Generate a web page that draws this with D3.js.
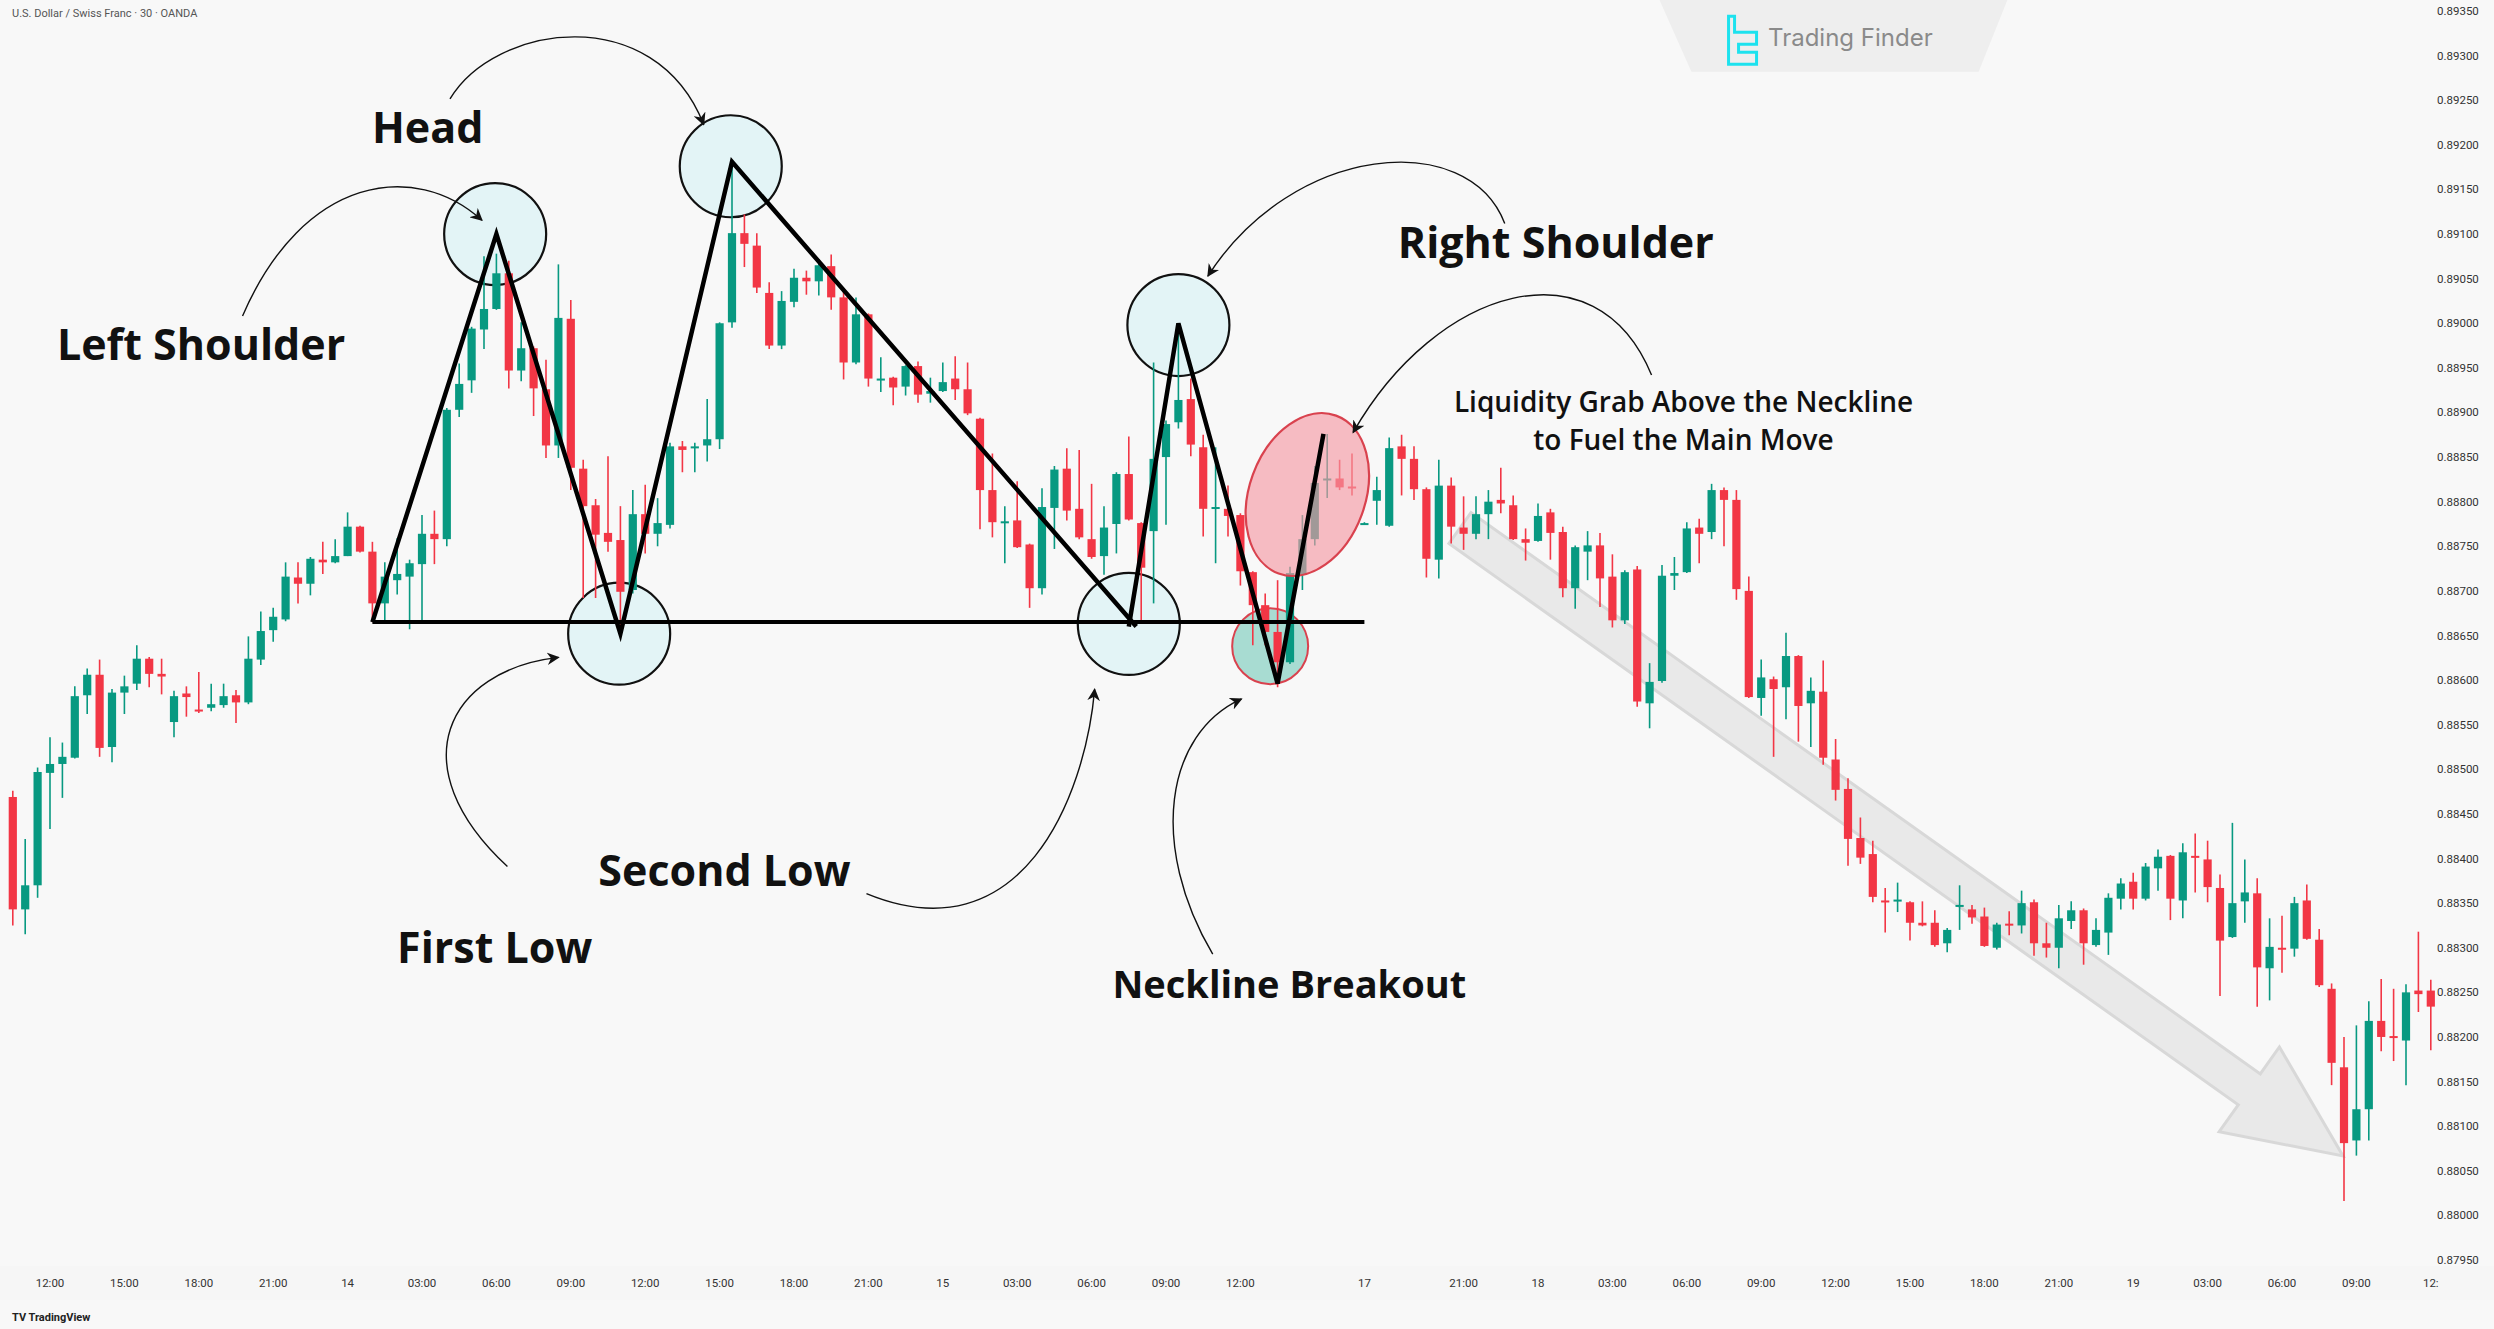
<!DOCTYPE html>
<html>
<head>
<meta charset="utf-8">
<script src="https://cdn.jsdelivr.net/npm/d3@7"></script>
<style>
  body { margin: 0; background: #f8f8f8; }
  svg { display: block; }
</style>
</head>
<body>
<svg id="chart" width="2494" height="1329"></svg>
<script>
// candles, 30 min USD/CHF, [open, high, low, close]
const candles = [
  [0.88469,0.88476,0.88325,0.88343],[0.88343,0.88422,0.88315,0.88370],[0.88370,0.88502,0.88356,0.88497],[0.88496,0.88536,0.88433,0.88506],
  [0.88506,0.88530,0.88468,0.88514],[0.88513,0.88593,0.88512,0.88582],[0.88583,0.88613,0.88562,0.88606],[0.88606,0.88623,0.88514,0.88524],
  [0.88525,0.88590,0.88508,0.88586],[0.88586,0.88605,0.88562,0.88593],[0.88596,0.88639,0.88589,0.88624],[0.88624,0.88626,0.88592,0.88607],
  [0.88607,0.88624,0.88584,0.88604],[0.88553,0.88588,0.88536,0.88582],[0.88585,0.88593,0.88559,0.88581],[0.88567,0.88609,0.88563,0.88565],
  [0.88569,0.88596,0.88565,0.88573],[0.88572,0.88596,0.88569,0.88582],[0.88583,0.88589,0.88552,0.88575],[0.88575,0.88649,0.88573,0.88624],
  [0.88623,0.88677,0.88617,0.88655],[0.88656,0.88681,0.88643,0.88671],[0.88668,0.88732,0.88666,0.88716],[0.88715,0.88732,0.88686,0.88708],
  [0.88708,0.88738,0.88695,0.88736],[0.88735,0.88755,0.88719,0.88732],[0.88732,0.88758,0.88731,0.88739],[0.88739,0.88788,0.88739,0.88772],
  [0.88772,0.88773,0.88743,0.88744],[0.88744,0.88755,0.88665,0.88686],[0.88686,0.88732,0.88665,0.88716],[0.88712,0.88759,0.88696,0.88719],
  [0.88716,0.88735,0.88657,0.88731],[0.88730,0.88785,0.88667,0.88764],[0.88764,0.88790,0.88730,0.88758],[0.88758,0.88905,0.88750,0.88903],
  [0.88903,0.88955,0.88895,0.88932],[0.88936,0.88996,0.88922,0.88994],[0.88993,0.89075,0.88971,0.89016],[0.89016,0.89078,0.89015,0.89056],
  [0.89056,0.89070,0.88927,0.88947],[0.88947,0.89001,0.88935,0.88972],[0.88972,0.88974,0.88896,0.88927],[0.88926,0.88959,0.88849,0.88863],
  [0.88863,0.89066,0.88849,0.89006],[0.89005,0.89026,0.88813,0.88838],[0.88837,0.88847,0.88692,0.88795],[0.88796,0.88803,0.88692,0.88763],
  [0.88765,0.88851,0.88744,0.88755],[0.88757,0.88795,0.88654,0.88699],[0.88701,0.88813,0.88697,0.88786],[0.88786,0.88819,0.88742,0.88764],
  [0.88764,0.88804,0.88750,0.88776],[0.88774,0.88866,0.88770,0.88862],[0.88862,0.88868,0.88833,0.88858],[0.88861,0.88866,0.88833,0.88862],
  [0.88863,0.88915,0.88845,0.88870],[0.88870,0.89001,0.88859,0.89000],[0.89001,0.89181,0.88995,0.89101],[0.89101,0.89122,0.89063,0.89089],
  [0.89087,0.89101,0.89034,0.89040],[0.89034,0.89046,0.88971,0.88975],[0.88975,0.89036,0.88971,0.89025],[0.89024,0.89061,0.89018,0.89051],
  [0.89051,0.89059,0.89032,0.89047],[0.89047,0.89072,0.89031,0.89065],[0.89064,0.89077,0.89015,0.89029],[0.89029,0.89039,0.88937,0.88956],
  [0.88956,0.89029,0.88954,0.89010],[0.89010,0.89011,0.88929,0.88938],[0.88937,0.88962,0.88923,0.88938],[0.88939,0.88940,0.88908,0.88928],
  [0.88929,0.88953,0.88919,0.88952],[0.88952,0.88957,0.88911,0.88920],[0.88921,0.88939,0.88911,0.88924],[0.88924,0.88956,0.88923,0.88934],
  [0.88938,0.88963,0.88914,0.88926],[0.88926,0.88956,0.88897,0.88899],[0.88893,0.88894,0.88769,0.88813],[0.88813,0.88854,0.88760,0.88777],
  [0.88777,0.88795,0.88731,0.88778],[0.88779,0.88823,0.88748,0.88749],[0.88752,0.88753,0.88681,0.88703],[0.88703,0.88815,0.88696,0.88794],
  [0.88793,0.88840,0.88747,0.88836],[0.88837,0.88860,0.88779,0.88790],[0.88792,0.88858,0.88758,0.88760],[0.88758,0.88820,0.88736,0.88738],
  [0.88739,0.88795,0.88718,0.88771],[0.88775,0.88833,0.88742,0.88831],[0.88831,0.88873,0.88779,0.88780],[0.88776,0.88777,0.88663,0.88726],
  [0.88767,0.88956,0.88686,0.88848],[0.88850,0.88891,0.88774,0.88887],[0.88889,0.89000,0.88882,0.88914],[0.88915,0.88938,0.88851,0.88864],
  [0.88861,0.88875,0.88761,0.88792],[0.88792,0.88861,0.88731,0.88794],[0.88792,0.88818,0.88761,0.88784],[0.88785,0.88787,0.88706,0.88722],
  [0.88721,0.88722,0.88639,0.88684],[0.88684,0.88697,0.88639,0.88654],[0.88654,0.88712,0.88592,0.88620],[0.88620,0.88727,0.88618,0.88720],
  [0.88718,0.88785,0.88701,0.88758],[0.88758,0.88840,0.88751,0.88821],[0.88824,0.88876,0.88804,0.88826],[0.88826,0.88847,0.88813,0.88816],
  [0.88817,0.88854,0.88807,0.88816],[0.88775,0.88777,0.88774,0.88776],[0.88801,0.88828,0.88774,0.88813],[0.88773,0.88872,0.88772,0.88860],
  [0.88862,0.88875,0.88807,0.88848],[0.88848,0.88862,0.88802,0.88814],[0.88814,0.88816,0.88715,0.88736],[0.88735,0.88847,0.88714,0.88818],
  [0.88818,0.88827,0.88753,0.88772],[0.88771,0.88806,0.88746,0.88764],[0.88764,0.88806,0.88758,0.88786],[0.88786,0.88813,0.88758,0.88800],
  [0.88802,0.88838,0.88787,0.88798],[0.88796,0.88807,0.88757,0.88758],[0.88758,0.88770,0.88734,0.88754],[0.88756,0.88798,0.88755,0.88784],
  [0.88788,0.88792,0.88735,0.88765],[0.88766,0.88772,0.88693,0.88703],[0.88703,0.88751,0.88680,0.88749],[0.88744,0.88767,0.88712,0.88751],
  [0.88751,0.88765,0.88682,0.88714],[0.88716,0.88741,0.88659,0.88667],[0.88667,0.88723,0.88663,0.88721],[0.88724,0.88728,0.88570,0.88576],
  [0.88574,0.88619,0.88546,0.88598],[0.88599,0.88729,0.88597,0.88717],[0.88717,0.88738,0.88701,0.88720],[0.88721,0.88777,0.88720,0.88770],
  [0.88771,0.88781,0.88731,0.88764],[0.88766,0.88820,0.88758,0.88813],[0.88813,0.88816,0.88750,0.88802],[0.88802,0.88813,0.88690,0.88702],
  [0.88700,0.88716,0.88580,0.88581],[0.88580,0.88623,0.88560,0.88603],[0.88601,0.88604,0.88514,0.88590],[0.88592,0.88653,0.88556,0.88627],
  [0.88627,0.88628,0.88531,0.88571],[0.88574,0.88603,0.88525,0.88588],[0.88587,0.88622,0.88505,0.88513],[0.88511,0.88534,0.88465,0.88477],
  [0.88478,0.88490,0.88392,0.88422],[0.88423,0.88446,0.88394,0.88401],[0.88405,0.88420,0.88351,0.88357],[0.88353,0.88367,0.88317,0.88351],
  [0.88352,0.88373,0.88340,0.88354],[0.88351,0.88352,0.88308,0.88328],[0.88328,0.88352,0.88324,0.88325],[0.88328,0.88342,0.88301,0.88303],
  [0.88305,0.88322,0.88295,0.88320],[0.88346,0.88370,0.88320,0.88348],[0.88343,0.88348,0.88327,0.88334],[0.88335,0.88345,0.88301,0.88302],
  [0.88300,0.88328,0.88298,0.88326],[0.88327,0.88341,0.88314,0.88326],[0.88325,0.88364,0.88316,0.88350],[0.88351,0.88354,0.88291,0.88305],
  [0.88305,0.88328,0.88289,0.88300],[0.88300,0.88348,0.88277,0.88333],[0.88330,0.88352,0.88321,0.88342],[0.88342,0.88344,0.88281,0.88305],
  [0.88303,0.88333,0.88301,0.88320],[0.88317,0.88361,0.88292,0.88356],[0.88355,0.88378,0.88343,0.88372],[0.88374,0.88384,0.88343,0.88355],
  [0.88355,0.88395,0.88353,0.88391],[0.88389,0.88410,0.88364,0.88402],[0.88403,0.88404,0.88331,0.88355],[0.88353,0.88417,0.88333,0.88407],
  [0.88403,0.88428,0.88362,0.88402],[0.88399,0.88420,0.88351,0.88368],[0.88367,0.88382,0.88246,0.88308],[0.88312,0.88440,0.88311,0.88350],
  [0.88352,0.88399,0.88328,0.88362],[0.88361,0.88378,0.88234,0.88278],[0.88277,0.88333,0.88241,0.88301],[0.88300,0.88336,0.88272,0.88298],
  [0.88299,0.88357,0.88290,0.88350],[0.88353,0.88371,0.88309,0.88310],[0.88309,0.88321,0.88256,0.88258],[0.88254,0.88260,0.88146,0.88171],
  [0.88166,0.88200,0.88016,0.88081],[0.88084,0.88213,0.88067,0.88119],[0.88119,0.88240,0.88084,0.88218],[0.88218,0.88265,0.88184,0.88200],
  [0.88201,0.88254,0.88173,0.88200],[0.88196,0.88259,0.88146,0.88250],[0.88252,0.88318,0.88228,0.88248],[0.88252,0.88264,0.88185,0.88234]
];

const priceTicks = d3.range(0, 29).map(k => 0.8795 + k * 0.0005);
const timeTickBars = [3, 9, 15, 21, 27, 33, 39, 45, 51, 57, 63, 69, 75, 81, 87, 93, 99, 109, 117, 123, 129, 135, 141, 147, 153, 159, 165, 171, 177, 183, 189, 195];
const timeTickLabels = ["12:00","15:00","18:00","21:00","14","03:00","06:00","09:00","12:00","15:00","18:00","21:00","15","03:00","06:00","09:00","12:00","17","21:00","18","03:00","06:00","09:00","12:00","15:00","18:00","21:00","19","03:00","06:00","09:00","12:"];

// pattern annotation: [bar, price]
const patternLine = [[29, 0.88665], [39, 0.89100], [49, 0.88652], [58, 0.89181], [90.6, 0.88660]];
const rightLeg = [[90, 0.88660], [94, 0.89000], [102, 0.88596], [105.7, 0.88876]];
const neckline = [[29, 0.88665], [109, 0.88665]];
const circles = [[38.9, 0.89100], [57.9, 0.89176], [48.9, 0.88652], [90, 0.88663], [94, 0.88998]];

const svg = d3.select('#chart');
const W = 2494, H = 1329;
const x = d3.scaleLinear().domain([0, 195]).range([12.8, 2430.8]);
const y = d3.scaleLinear().domain([0.8795, 0.8935]).range([1260, 11]);
const k = 1.5957; // reference half-size -> page px
const up = '#089981', down = '#f23645';

svg.append('rect').attr('width', W).attr('height', H).attr('fill', '#f8f8f8');

// header
svg.append('text').attr('x', 12).attr('y', 17).attr('font-family', 'Roboto, sans-serif')
  .attr('font-size', 11).attr('fill', '#555').text('U.S. Dollar / Swiss Franc · 30 · OANDA');

// logo plate
svg.append('path').attr('d', `M${1040*k},0 L${1258*k},0 L${1240*k},${45*k} L${1060*k},${45*k} Z`)
  .attr('fill', '#eeeeee');
const logo = svg.append('g').attr('transform', `translate(${1082*k},${9*k})`)
  .attr('fill', 'none').attr('stroke', '#1de2ee').attr('stroke-width', 3);
logo.append('path').attr('d', 'M2,2 L8,2 L8,18 L30,18 L30,30 L12,30 L12,38 L30,38 L30,50 L2,50 Z');
svg.append('text').attr('x', 1108*k).attr('y', 29*k).attr('font-family', 'Inter, sans-serif')
  .attr('font-size', 24).attr('fill', '#8a8a8a').text('Trading Finder');

// grey trend arrow
(function () {
  const t = [1460, 528], h = [2343, 1156];
  const ang = Math.atan2(h[1] - t[1], h[0] - t[0]);
  const ux = Math.cos(ang), uy = Math.sin(ang), nx = -uy, ny = ux;
  const sw = 19, hw = 52, hl = 115;
  const b = [h[0] - ux * hl, h[1] - uy * hl];
  const pts = [
    [t[0] + nx * sw, t[1] + ny * sw], [b[0] + nx * sw, b[1] + ny * sw], [b[0] + nx * hw, b[1] + ny * hw], h,
    [b[0] - nx * hw, b[1] - ny * hw], [b[0] - nx * sw, b[1] - ny * sw], [t[0] - nx * sw, t[1] - ny * sw]
  ];
  svg.append('polygon').attr('points', pts.map(p => p.join(',')).join(' '))
    .attr('fill', '#e4e4e4').attr('fill-opacity', 0.75).attr('stroke', '#d8d8d8').attr('stroke-width', 3);
})();

// circles behind candles
svg.selectAll('ellipse.mk').data(circles).join('ellipse').attr('class', 'mk')
  .attr('cx', d => x(d[0])).attr('cy', d => y(d[1])).attr('rx', 51).attr('ry', 51)
  .attr('fill', '#e3f4f6').attr('stroke', '#111').attr('stroke-width', 2.2);
svg.append('ellipse').attr('cx', x(101.4)).attr('cy', y(0.88638)).attr('rx', 38).attr('ry', 38)
  .attr('fill', '#a8dcd2').attr('stroke', '#d9424e').attr('stroke-width', 2);

// candles
const cw = 8.2;
const g = svg.append('g');
candles.forEach((c, i) => {
  const [o, h, l, cl] = c;
  const col = cl >= o ? up : down;
  g.append('line').attr('x1', x(i)).attr('x2', x(i)).attr('y1', y(h)).attr('y2', y(l))
    .attr('stroke', col).attr('stroke-width', 1.6);
  const top = y(Math.max(o, cl)), bot = y(Math.min(o, cl));
  g.append('rect').attr('x', x(i) - cw / 2).attr('y', top).attr('width', cw)
    .attr('height', Math.max(2, bot - top)).attr('fill', col);
});

// red liquidity ellipse on top
svg.append('ellipse').attr('transform', `translate(${x(104.4)},${y(0.88808)}) rotate(20)`)
  .attr('rx', 58).attr('ry', 84).attr('fill', '#f59aa4').attr('fill-opacity', 0.65)
  .attr('stroke', '#d9424e').attr('stroke-width', 2.2);

// pattern lines
const line = d3.line().x(d => x(d[0])).y(d => y(d[1]));
[patternLine, rightLeg].forEach(p => svg.append('path').attr('d', line(p)).attr('fill', 'none')
  .attr('stroke', '#000').attr('stroke-width', 4.5).attr('stroke-linejoin', 'miter'));
svg.append('path').attr('d', line(neckline)).attr('stroke', '#000').attr('stroke-width', 4);

// curved arrows
svg.append('defs').append('marker').attr('id', 'ah').attr('viewBox', '0 0 10 10').attr('refX', 9).attr('refY', 5)
  .attr('markerWidth', 9).attr('markerHeight', 9).attr('orient', 'auto')
  .append('path').attr('d', 'M0,0 L10,5 L0,10 L3,5 Z').attr('fill', '#111');
const curves = [
  [[152,198],[190,110],[260,100],[302,138]],
  [[282,62],[310,15],[410,0],[441,78]],
  [[943,140],[920,80],[810,90],[757,173]],
  [[1035,235],[1000,150],[900,180],[848,271]],
  [[318,543],[250,480],[280,420],[350,412]],
  [[543,560],[640,600],[680,500],[686,432]],
  [[760,598],[720,530],[730,460],[778,438]]
];
curves.forEach(c => {
  const p = c.map(d => [d[0] * k, d[1] * k]);
  svg.append('path').attr('d', `M${p[0]} C${p[1]} ${p[2]} ${p[3]}`).attr('fill', 'none')
    .attr('stroke', '#111').attr('stroke-width', 1.4).attr('marker-end', 'url(#ah)');
});

// labels
const labels = [
  ['Head', 268, 80, 43], ['Left Shoulder', 126, 216, 43], ['Right Shoulder', 975, 152, 43],
  ['First Low', 310, 594, 43], ['Second Low', 454, 546, 43], ['Neckline Breakout', 808, 617, 38],
  ['Liquidity Grab Above the Neckline', 1055, 252, 28], ['to Fuel the Main Move', 1055, 276, 28]
];
svg.selectAll('text.lb').data(labels).join('text').attr('class', 'lb')
  .attr('x', d => d[1] * k).attr('y', d => d[2] * k).attr('dy', '0.35em')
  .attr('text-anchor', 'middle').attr('font-family', '"Open Sans", sans-serif')
  .attr('font-weight', d => d[3] < 35 ? 600 : 700).attr('font-size', d => d[3]).attr('fill', '#111')
  .text(d => d[0]);

// price axis
svg.selectAll('text.py').data(priceTicks).join('text').attr('class', 'py')
  .attr('x', 2437).attr('y', d => y(d)).attr('dy', '0.35em').attr('font-family', 'Roboto, sans-serif')
  .attr('font-size', 11.5).attr('fill', '#333').text(d => d.toFixed(5));

// time axis
svg.append('rect').attr('x', 0).attr('y', 1266).attr('width', 2494).attr('height', 34).attr('fill', '#f6f6f6');
svg.selectAll('text.tx').data(timeTickBars).join('text').attr('class', 'tx')
  .attr('x', d => x(d)).attr('y', 1287).attr('text-anchor', 'middle').attr('font-family', 'Roboto, sans-serif')
  .attr('font-size', 11.5).attr('fill', '#333').text((d, i) => timeTickLabels[i]);

svg.append('text').attr('x', 12).attr('y', 1321).attr('font-family', 'Roboto, sans-serif')
  .attr('font-size', 11).attr('font-weight', 700).attr('fill', '#222').text('TV TradingView');
</script>
</body>
</html>
